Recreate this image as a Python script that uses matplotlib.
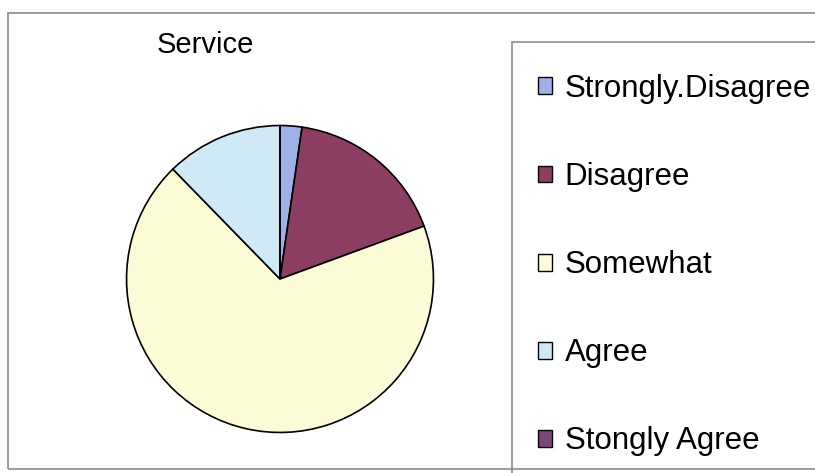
import matplotlib.pyplot as plt
from matplotlib.patches import Rectangle

labels = ["Strongly.Disagree", "Disagree", "Somewhat", "Agree", "Stongly Agree"]
shares = [2.3, 17.1, 68.3, 12.3, 0.0]
colors = ["#9fb0e6", "#8b3e62", "#fbfbd6", "#cfe9f6", "#7e4678"]

W, H = 815, 473
fig = plt.figure(figsize=(W / 100, H / 100), dpi=100)
plt.rcParams['font.family'] = ['Liberation Sans', 'DejaVu Sans']

# outer chart border and legend box (figure pixel coords)
def px(x, y):
    return x / W, 1 - y / H

fig.patches.append(Rectangle(px(8, 469), (W + 10) / W, (469 - 13) / H,
                             transform=fig.transFigure, fill=False,
                             edgecolor="#8c8c8c", lw=1.2))
fig.patches.append(Rectangle(px(512, 480), (W) / W, (480 - 42) / H,
                             transform=fig.transFigure, fill=False,
                             edgecolor="#8c8c8c", lw=1.2))

# pie
cx, cy, r = 280, 279, 155
ax = fig.add_axes([(cx - r) / W, 1 - (cy + r) / H, 2 * r / W, 2 * r / H])
wedges, _ = ax.pie(shares, colors=colors, startangle=90, counterclock=False,
                   radius=1, wedgeprops=dict(edgecolor="black", linewidth=1.2))
ax.set_xlim(-1.01, 1.01)
ax.set_ylim(-1.01, 1.01)
ax.set_aspect("equal")
ax.axis("off")

fig.text(205 / W, 1 - 45 / H, "Service", fontsize=21, ha="center", va="center")

leg = fig.legend(wedges, labels, loc="upper left",
                 bbox_to_anchor=(538 / W, 1 - 74 / H), frameon=False,
                 fontsize=22.5, labelspacing=1.86, handlelength=0.45,
                 handleheight=0.45, handletextpad=0.4, borderpad=0,
                 borderaxespad=0)
for h in leg.legend_handles:
    h.set_linewidth(1.0)
    h.set_edgecolor("black")

fig.savefig("out.png", dpi=100)
